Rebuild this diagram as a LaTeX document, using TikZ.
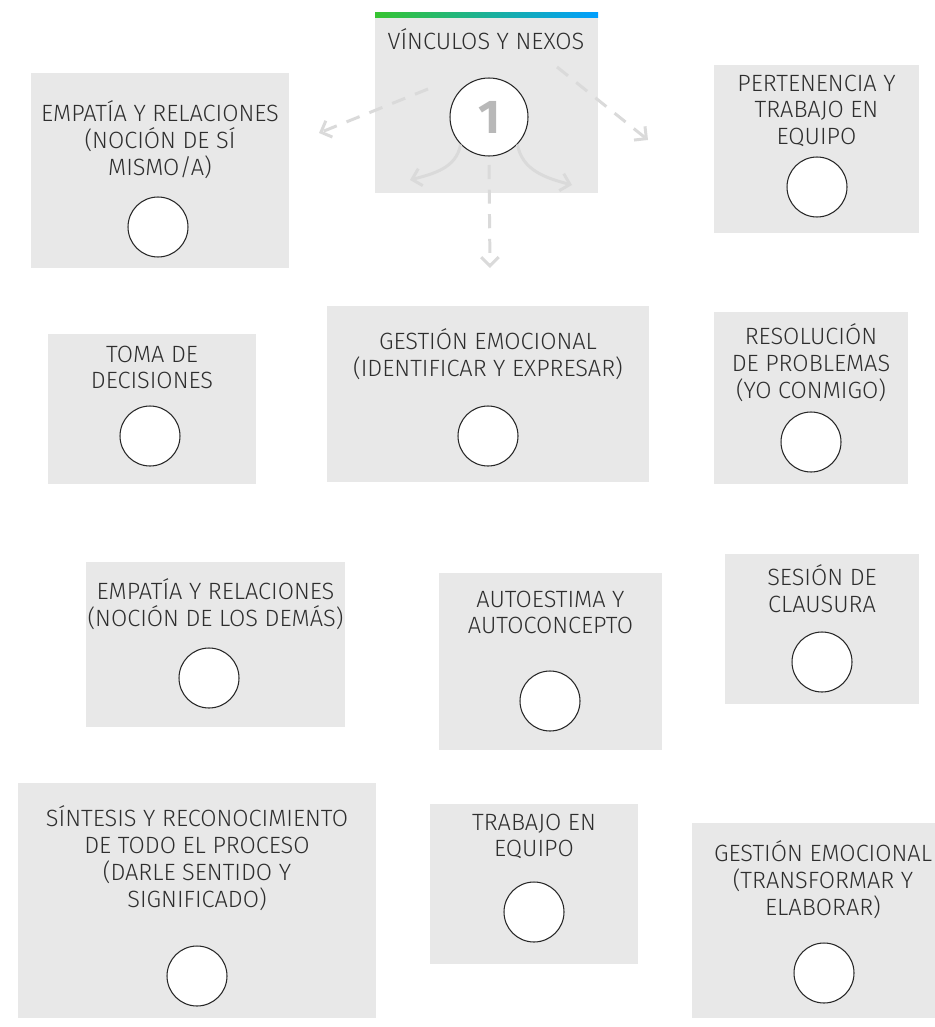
\documentclass[tikz,border=0pt]{standalone}
\usepackage{fontspec}
\setmainfont{Fira Sans}[UprightFont={* Light},BoldFont={* Bold}]
\usetikzlibrary{arrows.meta}
\definecolor{boxgray}{HTML}{E8E8E8}
\definecolor{textgray}{HTML}{2E2E2E}
\definecolor{arrowgray}{HTML}{DADADA}
\definecolor{bargreen}{HTML}{36C430}
\definecolor{barblue}{HTML}{009EFF}
\definecolor{numgray}{HTML}{B8B8B8}
\tikzset{
	card/.style={fill=boxgray},
	cardtext/.style={align=center, anchor=north, inner sep=0pt, text=textgray, font=\fontsize{13.4}{15.3}\selectfont, execute at begin node=\rule{0pt}{13pt}},
	dot/.style={circle, draw=black!85, fill=white, line width=0.6pt, minimum size=1.2cm, inner sep=0pt},
	flow/.style={draw=arrowgray, line width=1.7pt, -{Straight Barb[length=5pt,width=10pt]}},
	flowdash/.style={flow, dash pattern=on 8pt off 6pt}
}
\begin{document}
\begin{tikzpicture}[x=0.02cm, y=-0.02cm]
	\useasboundingbox (0,0) rectangle (935,1027);
	% top card
	\fill[card] (375,18) rectangle (598,193);
	\shade[left color=bargreen, right color=barblue] (375,13) rectangle (598,18);
	\node[cardtext] (t1) at (486,26.3) {VÍNCULOS Y NEXOS};
	\coordinate (one) at (489,117);
	\coordinate (l0) at (428,89); \coordinate (l1) at (319,133);
	\coordinate (r0) at (557,67); \coordinate (r1) at (648,140);
	\coordinate (d0) at (489,165); \coordinate (d1) at (490,268);
	\coordinate (lc) at (410,180); \coordinate (rc) at (572,185);
	\draw[flowdash] (l0) -- (l1);
	\draw[flowdash] (r0) -- (r1);
	\draw[flowdash] (d0) -- (d1);
	\node[dot, minimum size=1.56cm] (c1) at (one) {};
	\draw[flow] (c1.-136) to[out=-100,in=15] (lc);
	\draw[flow] (c1.-44) to[out=-80,in=165] (rc);
	\node[text=numgray, font=\fontsize{27}{28}\selectfont\bfseries] (n1) at (c1) {1};
	% cards
	\fill[card] (31,73) rectangle (289,268);
	\node[cardtext] (t2) at (160,100.3) {EMPATÍA Y RELACIONES\\(NOCIÓN DE SÍ\\MISMO/A)};
	\node[dot] (c2) at (158,227) {};
	\fill[card] (714,65) rectangle (919,233);
	\node[cardtext] (t3) at (816.5,74.3) {PERTENENCIA Y\\TRABAJO EN\\EQUIPO};
	\node[dot] (c3) at (817,187) {};
	\fill[card] (48,334) rectangle (256,484);
	\node[cardtext] (t4) at (152,345.3) {TOMA DE\\DECISIONES};
	\node[dot] (c4) at (150,436) {};
	\fill[card] (327,306) rectangle (649,482);
	\node[cardtext] (t5) at (488,328.3) {GESTIÓN EMOCIONAL\\(IDENTIFICAR Y EXPRESAR)};
	\node[dot] (c5) at (488,436) {};
	\fill[card] (714,312) rectangle (908,484);
	\node[cardtext] (t6) at (811,323.3) {RESOLUCIÓN\\DE PROBLEMAS\\(YO CONMIGO)};
	\node[dot] (c6) at (811,442) {};
	\fill[card] (86,562) rectangle (345,727);
	\node[cardtext] (t7) at (215.5,578.3) {EMPATÍA Y RELACIONES\\(NOCIÓN DE LOS DEMÁS)};
	\node[dot] (c7) at (209,678) {};
	\fill[card] (439,573) rectangle (662,750);
	\node[cardtext] (t8) at (550.5,590.3) {AUTOESTIMA Y\\AUTOCONCEPTO};
	\node[dot] (c8) at (550,701) {};
	\fill[card] (725,554) rectangle (919,704);
	\node[cardtext] (t9) at (822,564.3) {SESIÓN DE\\CLAUSURA};
	\node[dot] (c9) at (822,662) {};
	\fill[card] (18,783) rectangle (376,1018);
	\node[cardtext] (t10) at (197,805.3) {SÍNTESIS Y RECONOCIMIENTO\\DE TODO EL PROCESO\\(DARLE SENTIDO Y\\SIGNIFICADO)};
	\node[dot] (c10) at (197,976) {};
	\fill[card] (430,804) rectangle (638,964);
	\node[cardtext] (t11) at (534,813.3) {TRABAJO EN\\EQUIPO};
	\node[dot] (c11) at (534,912) {};
	\fill[card] (692,823) rectangle (935,1018);
	\node[cardtext] (t12) at (823,840.3) {GESTIÓN EMOCIONAL\\(TRANSFORMAR Y\\ELABORAR)};
	\node[dot] (c12) at (824,973) {};
\end{tikzpicture}
\end{document}
